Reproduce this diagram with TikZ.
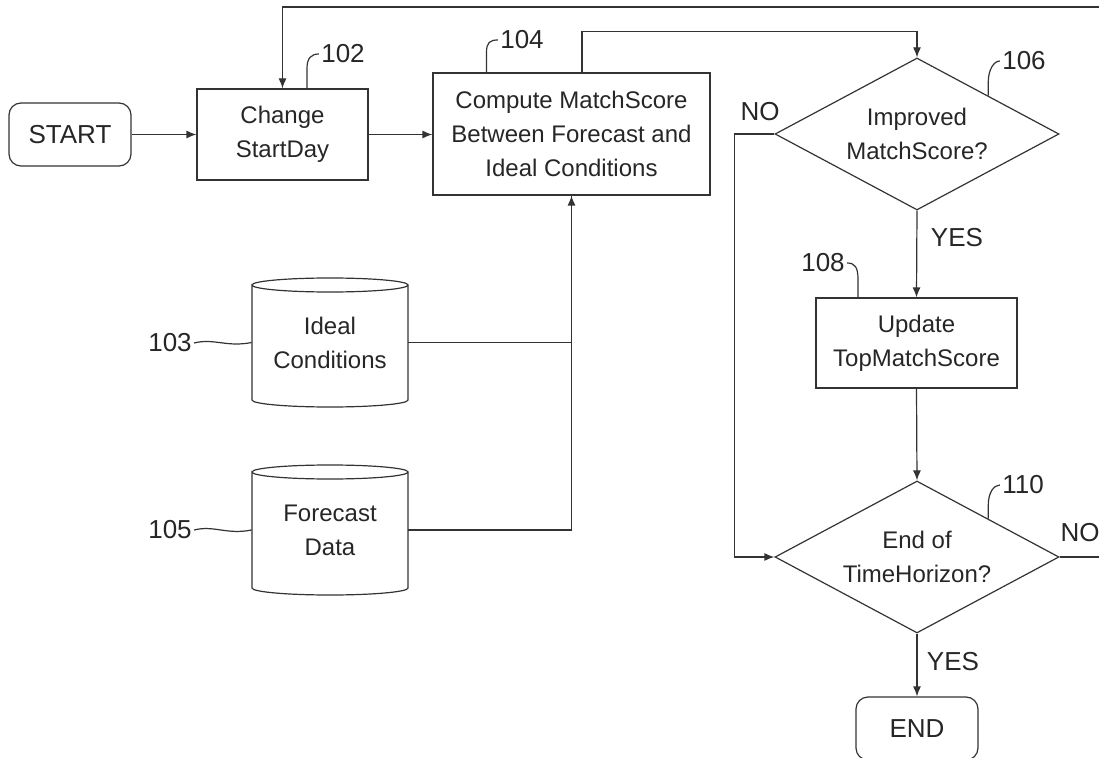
\documentclass[tikz,border=0pt]{standalone}
\usepackage{fontspec}
\setmainfont{Liberation Sans}
\usetikzlibrary{shapes.geometric, arrows.meta}

\begin{document}
\begin{tikzpicture}[x=0.5pt, y=0.5pt,
  line/.style={draw=black!80, line width=0.6pt},
  arr/.style={line, -{Latex[length=5pt, width=4pt]}},
  box/.style={line, rectangle, align=center, inner sep=0pt, text=black!85,
    font=\fontsize{12}{17}\selectfont},
  term/.style={box, rounded corners=6pt, minimum width=61pt, minimum height=31.5pt,
    font=\fontsize{13}{15}\selectfont},
  choice/.style={line, diamond, aspect=1.87, inner sep=0pt, align=center, text=black!85,
    minimum width=142pt, minimum height=76pt, font=\fontsize{12}{17}\selectfont},
  store/.style={rectangle, align=center, inner sep=0pt, text=black!85,
    minimum width=78pt, minimum height=64.5pt, font=\fontsize{12}{17}\selectfont},
  lbl/.style={inner sep=1pt, text=black!85, font=\fontsize{13}{15}\selectfont}]
\useasboundingbox (0,0) rectangle (1099,757);
% Kaesten
\node[term] (start) at (70,622.5) {START};
\node[box, minimum width=85.5pt, minimum height=45.5pt] (change) at (282.5,622.5) {Change\\StartDay};
\node[box, minimum width=138.5pt, minimum height=61pt] (compute) at (571.5,623) {Compute MatchScore\\Between Forecast and\\Ideal Conditions};
\node[choice] (improved) at (917,623) {Improved\\MatchScore?};
\node[box, minimum width=100.5pt, minimum height=45pt] (update) at (916.5,414) {Update\\TopMatchScore};
\node[choice] (horizon) at (917,200) {End of\\TimeHorizon?};
\node[term] (finish) at (917,28.5) {END};
% Datenspeicher
\node[store] (ideal) at (330,414.5) {Ideal\\Conditions};
\draw[line] (252,472) arc(180:-180:78 and 7) -- (252,357) arc(180:360:78 and 7) -- (408,472);
\node[store] (forecast) at (330,227) {Forecast\\Data};
\draw[line] (252,285) arc(180:-180:78 and 7) -- (252,169) arc(180:360:78 and 7) -- (408,285);
% Pfeile
\draw[arr] (start) -- (change);
\draw[arr] (change.east) -- (change.east -| compute.west);
\draw[arr] (ideal.east) -| (compute.south);
\draw[line] (forecast.east) -| (compute.south);
\draw[arr] ([xshift=5.25pt]compute.north) -- ++(0,41) -| (improved.north);
\draw[arr] (improved.south) -- (update.north);
\draw[arr] (update.south) -- (horizon.north);
\draw[arr] (horizon.south) -- (finish.north);
\draw[arr] (improved.west) -- ++(-40,0) |- (horizon.west);
\draw[arr] (horizon.east) -- ++(60,0) -- ++(0,550) -| (change.north);
%Text
\node[lbl] (no1) at (760,645) {NO};
\node[lbl] (yes1) at (957,519) {YES};
\node[lbl] (no2) at (1080,224) {NO};
\node[lbl] (yes2) at (953,95) {YES};
% Bezugszeichen
\node[lbl] (n102) at (343,703) {102};
\node[lbl] (n103) at (170,414) {103};
\node[lbl] (n104) at (522,717) {104};
\node[lbl] (n105) at (170,227) {105};
\node[lbl] (n106) at (1024,696) {106};
\node[lbl] (n108) at (823,494) {108};
\node[lbl] (n110) at (1023,272) {110};
\draw[line] ([xshift=12.25pt]change.north) -- ++(0,20) .. controls +(0,10) and +(-8,0) .. (n102.west);
\draw[line] ([xshift=-42.5pt]compute.north) -- ++(0,20) .. controls +(0,10) and +(-8,0) .. (n104.west);
\draw[line] (improved.north east) -- ++(0,14) .. controls +(0,12) and +(-6,0) .. (n106.west);
\draw[line] ([xshift=-29.25pt]update.north) -- ++(0,18) .. controls +(0,12) and +(8,0) .. (n108.east);
\draw[line] (horizon.north east) -- ++(0,14) .. controls +(0,12) and +(-6,0) .. (n110.west);
\draw[line] (n103.east) .. controls +(20,5) and +(-25,-5) .. (ideal.west);
\draw[line] (n105.east) .. controls +(20,5) and +(-25,-5) .. (forecast.west);
\end{tikzpicture}
\end{document}
